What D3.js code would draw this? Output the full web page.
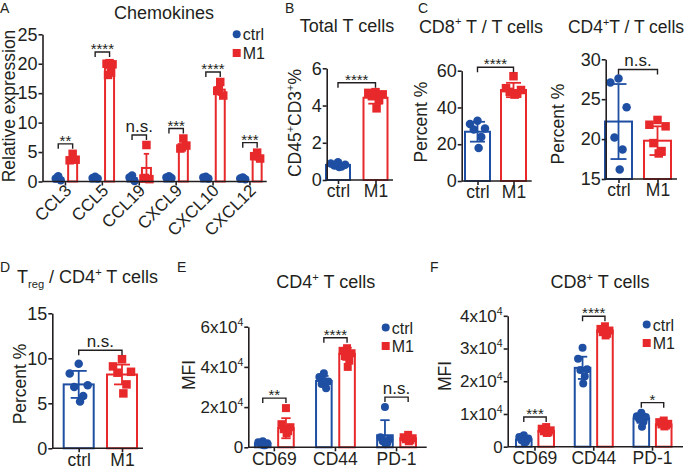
<!DOCTYPE html>
<html><head><meta charset="utf-8">
<script src="https://cdn.jsdelivr.net/npm/d3@7"></script>
<style>
body{margin:0;background:#fff;}
svg{display:block;font-family:"Liberation Sans",Arial,Helvetica,sans-serif;}
</style></head><body>
<svg id="fig" width="685" height="469"></svg>
<script>
// ---------------- DATA ----------------
const groups = ["ctrl", "M1"];

// A: Chemokines (relative expression)
const chemoCats = ["CCL3", "CCL5", "CCL19", "CXCL9", "CXCL10", "CXCL12"];
const chemoCtrlMean = [0.6, 0.6, 0.6, 0.7, 0.6, 0.5];
const chemoCtrlSd = [0.3, 0.1, 0.4, 0.1, 0.1, 0.1];
const chemoCtrlPts = [[0.9, 0.5, 0.2], [0.8, 0.6, 0.5], [1.0, 0.7, 0.1], [0.9, 0.7, 0.6], [0.8, 0.7, 0.5], [0.7, 0.5, 0.4]];
const chemoM1Mean = [4.0, 19.3, 2.3, 6.1, 15.6, 4.2];
const chemoM1Sd = [0.6, 1.0, 2.4, 0.7, 0.9, 0.5];
const chemoM1Pts = [[4.7, 3.6, 3.7], [20.1, 20.0, 19.9, 18.1, 18.5], [6.2, 0.5, 0.4, 0.6], [7.3, 5.6, 6.1, 5.8], [16.9, 15.4, 14.6, 15.5], [4.9, 4.3, 3.9]];
const chemoSig = ["**", "****", "n.s.", "***", "****", "***"];
const chemoTicks = [0, 5, 10, 15, 20, 25];

// B: Total T cells (CD45+CD3+ %)
const totalTCtrlPts = [0.95, 0.88, 0.82, 0.78, 0.72, 0.7];
const totalTM1Pts = [4.72, 4.68, 4.6, 4.5, 4.3, 3.85];
const totalTMean = [0.81, 4.42];
const totalTSd = [0.08, 0.32];
const totalTTicks = [0, 2, 4, 6];

// C: CD8+ T / T cells (%)
const cd8PctCtrlPts = [32.8, 31, 28.6, 28, 24, 18];
const cd8PctM1Pts = [57, 50.5, 49.5, 48.5, 47.6, 47];
const cd8PctMean = [26.8, 49.5];
const cd8PctSd = [5.4, 3.9];
const cd8PctTicks = [0, 20, 40, 60];

// C: CD4+ T / T cells (%)
const cd4PctCtrlPts = [27.6, 27.1, 24.0, 20.2, 18.7, 16.2];
const cd4PctM1Pts = [22.4, 21.8, 21.6, 19.5, 18.5, 18.2];
const cd4PctMean = [22.2, 19.8];
const cd4PctSd = [4.7, 1.8];
const cd4PctTicks = [15, 20, 25, 30];

// D: Treg / CD4+ T cells (%)
const tregCtrlPts = [9.4, 8.3, 7.0, 6.8, 5.8, 5.2];
const tregM1Pts = [9.9, 9.1, 8.5, 8.4, 7.1, 6.1];
const tregMean = [7.1, 8.2];
const tregSd = [1.5, 1.1];
const tregTicks = [0, 5, 10, 15];

const twoGroupSig = ["****", "****", "n.s.", "n.s."]; // B, C-CD8, C-CD4, D

// E / F: MFI (x10^4)
const mfiCats = ["CD69", "CD44", "PD-1"];
const cd4MfiCtrlPts = [[0.3, 0.25, 0.2, 0.15, 0.1, 0.1], [3.68, 3.5, 3.27, 3.15, 2.94, 3.3], [2.0, 0.5, 0.4, 0.3, 0.2, 0.15]];
const cd4MfiM1Pts = [[1.95, 1.15, 1.0, 0.9, 0.8, 0.7], [4.93, 4.8, 4.68, 4.54, 4.31, 4.0], [0.62, 0.5, 0.45, 0.4, 0.35, 0.3]];
const cd4MfiCtrlMean = [0.2, 3.3, 0.6];
const cd4MfiCtrlSd = [0.1, 0.25, 0.75];
const cd4MfiM1Mean = [0.95, 4.65, 0.45];
const cd4MfiM1Sd = [0.5, 0.3, 0.1];
const cd4MfiSig = ["**", "****", "n.s."];
const cd4MfiTicks = [0, 2, 4, 6];

const cd8MfiCtrlPts = [[0.35, 0.3, 0.25, 0.2, 0.15, 0.12], [3.02, 2.69, 2.37, 2.34, 2.15, 1.93], [1.04, 0.93, 0.91, 0.85, 0.76, 0.61]];
const cd8MfiM1Pts = [[0.6, 0.55, 0.5, 0.47, 0.44, 0.42], [3.68, 3.6, 3.55, 3.5, 3.45, 3.4], [0.8, 0.75, 0.7, 0.68, 0.65, 0.62]];
const cd8MfiCtrlMean = [0.22, 2.41, 0.87];
const cd8MfiCtrlSd = [0.08, 0.34, 0.14];
const cd8MfiM1Mean = [0.48, 3.55, 0.68];
const cd8MfiM1Sd = [0.06, 0.08, 0.06];
const cd8MfiSig = ["***", "****", "*"];
const cd8MfiTicks = [0, 1, 2, 3, 4];

// ---------------- STYLE ----------------
const BLUE = "#1f4fa3", RED = "#e8292b", INK = "#231f20";
const FONT = '"Liberation Sans", Arial, Helvetica, sans-serif';
const svg = d3.select("#fig");

function rich(g, x, y, parts, fs, anchor, rotate) {
  const t = g.append("text").attr("x", x).attr("y", y).attr("font-size", fs)
    .attr("fill", INK).attr("text-anchor", anchor || "middle").attr("font-family", FONT);
  if (rotate) t.attr("transform", `rotate(-90,${x},${y})`);
  let cur = 0;
  parts.forEach(p => {
    const o = typeof p === "string" ? { t: p } : p;
    const want = o.s === "sup" ? -0.4 * fs : o.s === "sub" ? 0.3 * fs : 0;
    const ts = t.append("tspan").attr("dy", want - cur).text(o.t);
    if (o.s) ts.attr("font-size", fs * 0.62);
    cur = want;
  });
  return t;
}

function styleAxis(ax, fs) {
  ax.select(".domain").attr("stroke", INK).attr("stroke-width", 1.6);
  ax.selectAll(".tick line").attr("stroke", INK).attr("stroke-width", 1.6);
  ax.selectAll(".tick text").attr("fill", INK).attr("font-size", fs).attr("font-family", FONT);
}

function yAxis(g, y, x0, ticks, fs, sci) {
  const ax = g.append("g").attr("transform", `translate(${x0},0)`)
    .call(d3.axisLeft(y).tickValues(ticks).tickFormat(d3.format("d"))
      .tickSize(4).tickSizeOuter(0).tickPadding(1));
  styleAxis(ax, fs);
  if (sci) {
    ax.selectAll(".tick text").each(function (d) {
      if (d === 0) return;
      const t = d3.select(this);
      t.text(d + "x10");
      t.append("tspan").attr("dy", -fs * 0.42).attr("font-size", fs * 0.62).text("4");
    });
  }
  return ax;
}

function xAxis(g, x, x0, x1, y0, fs, rotate) {
  g.append("line").attr("x1", x0).attr("x2", x1).attr("y1", y0).attr("y2", y0)
    .attr("stroke", INK).attr("stroke-width", 1.6);
  const ax = g.append("g").attr("transform", `translate(0,${y0})`)
    .call(d3.axisBottom(x).tickSize(4).tickPadding(1));
  ax.select(".domain").remove();
  styleAxis(ax, fs);
  if (rotate) {
    ax.selectAll(".tick text").attr("x", 0).attr("y", 0).attr("dy", 0)
      .attr("transform", "translate(7,10) rotate(-45)").attr("text-anchor", "end");
  }
  return ax;
}

const JIT = [0, -1, 1, -0.5, 0.5, 0.15];
function series(g, cx, mean, sd, pts, y, base, color, shape, bw, amp, ps) {
  const y0 = y(base);
  g.append("rect").attr("x", cx - bw / 2).attr("y", y(mean)).attr("width", bw)
    .attr("height", Math.max(0, y0 - y(mean))).attr("fill", "#fff")
    .attr("stroke", color).attr("stroke-width", 2);
  const sel = g.selectAll(null).data(pts);
  if (shape === "circle") {
    sel.join("circle").attr("cx", (d, i) => cx + JIT[i % 6] * amp).attr("cy", d => y(d))
      .attr("r", ps / 2).attr("fill", color);
  } else {
    sel.join("rect").attr("x", (d, i) => cx + JIT[i % 6] * amp - ps / 2).attr("y", d => y(d) - ps / 2)
      .attr("width", ps).attr("height", ps).attr("fill", color);
  }
  const lo = Math.max(base, mean - sd), hi = mean + sd, cw = Math.min(bw * 0.6, 16);
  g.append("line").attr("x1", cx).attr("x2", cx).attr("y1", y(lo)).attr("y2", y(hi))
    .attr("stroke", color).attr("stroke-width", 1.8);
  g.append("line").attr("x1", cx - cw / 2).attr("x2", cx + cw / 2).attr("y1", y(hi)).attr("y2", y(hi))
    .attr("stroke", color).attr("stroke-width", 1.8);
  if (mean - sd > base) {
    g.append("line").attr("x1", cx - cw / 2).attr("x2", cx + cw / 2).attr("y1", y(lo)).attr("y2", y(lo))
      .attr("stroke", color).attr("stroke-width", 1.8);
  }
}

function bracket(g, x1, x2, yb, label) {
  g.append("path").attr("d", `M${x1},${yb + 5}V${yb}H${x2}V${yb + 5}`)
    .attr("fill", "none").attr("stroke", INK).attr("stroke-width", 1.4);
  const star = label.startsWith("*");
  g.append("text").attr("x", (x1 + x2) / 2).attr("y", star ? yb + 2 : yb - 3)
    .attr("text-anchor", "middle").attr("font-size", star ? 15 : 17)
    .attr("fill", INK).attr("font-family", FONT).text(label);
}

function legend(g, x, y, gap) {
  g.append("circle").attr("cx", x).attr("cy", y).attr("r", 4).attr("fill", BLUE);
  g.append("rect").attr("x", x - 4).attr("y", y + gap - 4).attr("width", 8).attr("height", 8).attr("fill", RED);
  g.append("text").attr("x", x + 6).attr("y", y + 6).attr("font-size", 16).attr("fill", INK).attr("font-family", FONT).text("ctrl");
  g.append("text").attr("x", x + 6).attr("y", y + gap + 6).attr("font-size", 16).attr("fill", INK).attr("font-family", FONT).text("M1");
}

function letter(x, y, s) {
  svg.append("text").attr("x", x).attr("y", y).attr("font-size", 14).attr("fill", INK)
    .attr("font-family", FONT).text(s);
}

function topOf(pts, mean, sd) { return Math.max(d3.max(pts), mean + sd); }

// ---------------- PANEL A ----------------
(function () {
  const g = svg.append("g");
  const y = d3.scaleLinear().domain([0, 25]).range([181.5, 34.3]);
  const x = d3.scaleBand().domain(chemoCats).range([47, 268.4]).padding(0);
  const off = 7.2, bw = 9;
  chemoCats.forEach((c, i) => {
    const cc = x(c) + x.bandwidth() / 2;
    series(g, cc - off, chemoCtrlMean[i], chemoCtrlSd[i], chemoCtrlPts[i], y, 0, BLUE, "circle", bw, 2.5, 8.5);
    series(g, cc + off, chemoM1Mean[i], chemoM1Sd[i], chemoM1Pts[i], y, 0, RED, "square", bw, 3, 8.5);
    const top = Math.max(topOf(chemoCtrlPts[i], chemoCtrlMean[i], chemoCtrlSd[i]), topOf(chemoM1Pts[i], chemoM1Mean[i], chemoM1Sd[i]));
    bracket(g, cc - off, cc + off, y(top) - 10, chemoSig[i]);
  });
  yAxis(g, y, 42.5, chemoTicks, 18);
  xAxis(g, x, 42.5, 266.7, 181.5, 17, true);
  rich(g, 164, 19, ["Chemokines"], 18);
  rich(g, 15, 106, ["Relative expression"], 17.5, "middle", true);
  legend(g, 236.7, 34.3, 18.7);
  letter(0, 13, "A");
})();

// ---------------- two-group panels ----------------
function twoGroup(cfg) {
  const g = svg.append("g");
  const y = d3.scaleLinear().domain(cfg.dom).range(cfg.yr);
  const x = d3.scalePoint().domain(groups).range(cfg.cx);
  const base = cfg.dom[0];
  series(g, x("ctrl"), cfg.mean[0], cfg.sd[0], cfg.ctrl, y, base, BLUE, "circle", cfg.bw, cfg.bw * 0.3, 8.5);
  series(g, x("M1"), cfg.mean[1], cfg.sd[1], cfg.m1, y, base, RED, "square", cfg.bw, cfg.bw * 0.3, 8.5);
  const top = Math.max(topOf(cfg.ctrl, cfg.mean[0], cfg.sd[0]), topOf(cfg.m1, cfg.mean[1], cfg.sd[1]));
  bracket(g, x("ctrl"), x("M1"), y(top) - 9, cfg.sig);
  yAxis(g, y, cfg.ax, cfg.ticks, 18);
  xAxis(g, x, cfg.ax, cfg.xEnd, cfg.yr[0], 17.5, false);
  rich(g, cfg.title[0], cfg.title[1], cfg.titleParts, cfg.titleFs || 18);
  rich(g, cfg.ylab[0], cfg.ylab[1], cfg.ylabParts, 17.5, "middle", true);
}

twoGroup({ dom: [0, 6], yr: [180, 68.3], cx: [338, 375.5], bw: 24, ax: 326.7, xEnd: 393,
  mean: totalTMean, sd: totalTSd, ctrl: totalTCtrlPts, m1: totalTM1Pts, ticks: totalTTicks, sig: twoGroupSig[0],
  title: [347, 31.5], titleParts: ["Total T cells"],
  ylab: [301, 123], ylabParts: ["CD45", { t: "+", s: "sup" }, "CD3", { t: "+", s: "sup" }, "%"] });
letter(285, 13, "B");

twoGroup({ dom: [0, 60], yr: [181, 70.7], cx: [477.5, 513.5], bw: 25, ax: 461.7, xEnd: 531.7,
  mean: cd8PctMean, sd: cd8PctSd, ctrl: cd8PctCtrlPts, m1: cd8PctM1Pts, ticks: cd8PctTicks, sig: twoGroupSig[1],
  title: [481, 32.5], titleParts: ["CD8", { t: "+", s: "sup" }, " T / T cells"],
  ylab: [427, 122], ylabParts: ["Percent %"] });
letter(418, 13, "C");

twoGroup({ dom: [15, 30], yr: [179, 59.3], cx: [618.5, 657.5], bw: 27, ax: 605.7, xEnd: 677,
  mean: cd4PctMean, sd: cd4PctSd, ctrl: cd4PctCtrlPts, m1: cd4PctM1Pts, ticks: cd4PctTicks, sig: twoGroupSig[2],
  title: [626, 32.5], titleFs: 17.5, titleParts: ["CD4", { t: "+", s: "sup" }, "T / T cells"],
  ylab: [564, 124], ylabParts: ["Percent %"] });

twoGroup({ dom: [0, 15], yr: [448.3, 313.3], cx: [78.7, 122], bw: 30, ax: 52.3, xEnd: 143,
  mean: tregMean, sd: tregSd, ctrl: tregCtrlPts, m1: tregM1Pts, ticks: tregTicks, sig: twoGroupSig[3],
  title: [87.5, 283], titleParts: ["T", { t: "reg", s: "sub" }, " / CD4", { t: "+", s: "sup" }, " T cells"],
  ylab: [26, 384], ylabParts: ["Percent %"] });
letter(0, 272, "D");

// ---------------- MFI panels ----------------
function mfi(cfg) {
  const g = svg.append("g");
  const y = d3.scaleLinear().domain(cfg.dom).range(cfg.yr);
  const x = d3.scaleBand().domain(mfiCats).range(cfg.xr).padding(0);
  mfiCats.forEach((c, i) => {
    const cc = x(c) + x.bandwidth() / 2;
    series(g, cc - cfg.off, cfg.cMean[i], cfg.cSd[i], cfg.cPts[i], y, 0, BLUE, "circle", cfg.bw, 4.5, 8);
    series(g, cc + cfg.off, cfg.mMean[i], cfg.mSd[i], cfg.mPts[i], y, 0, RED, "square", cfg.bw, 4.5, 8);
    const top = Math.max(topOf(cfg.cPts[i], cfg.cMean[i], cfg.cSd[i]), topOf(cfg.mPts[i], cfg.mMean[i], cfg.mSd[i]));
    bracket(g, cc - cfg.off, cc + cfg.off, y(top) - 10, cfg.sig[i]);
  });
  yAxis(g, y, cfg.ax, cfg.ticks, 17, true);
  xAxis(g, x, cfg.ax, cfg.xEnd, cfg.yr[0], 17.5, false);
  rich(g, cfg.title[0], 288, cfg.titleParts, 18);
  rich(g, cfg.ylab[0], cfg.ylab[1], ["MFI"], 17.5, "middle", true);
  legend(g, cfg.leg[0], cfg.leg[1], 18.5);
}

mfi({ dom: [0, 6], yr: [447.3, 326.7], xr: [243.8, 427.1], off: 11.6, bw: 15.6, ax: 248.3, xEnd: 426.7,
  cPts: cd4MfiCtrlPts, mPts: cd4MfiM1Pts, cMean: cd4MfiCtrlMean, cSd: cd4MfiCtrlSd, mMean: cd4MfiM1Mean, mSd: cd4MfiM1Sd,
  sig: cd4MfiSig, ticks: cd4MfiTicks, title: [325.7], titleParts: ["CD4", { t: "+", s: "sup" }, " T cells"],
  ylab: [195, 375], leg: [385.7, 327.5] });
letter(177, 272, "E");

mfi({ dom: [0, 4], yr: [446.7, 315.8], xr: [505.6, 681.9], off: 11.2, bw: 15.6, ax: 507.7, xEnd: 683,
  cPts: cd8MfiCtrlPts, mPts: cd8MfiM1Pts, cMean: cd8MfiCtrlMean, cSd: cd8MfiCtrlSd, mMean: cd8MfiM1Mean, mSd: cd8MfiM1Sd,
  sig: cd8MfiSig, ticks: cd8MfiTicks, title: [600], titleParts: ["CD8", { t: "+", s: "sup" }, " T cells"],
  ylab: [451, 376], leg: [646.7, 324.5] });
letter(430, 272, "F");
</script>
</body></html>
